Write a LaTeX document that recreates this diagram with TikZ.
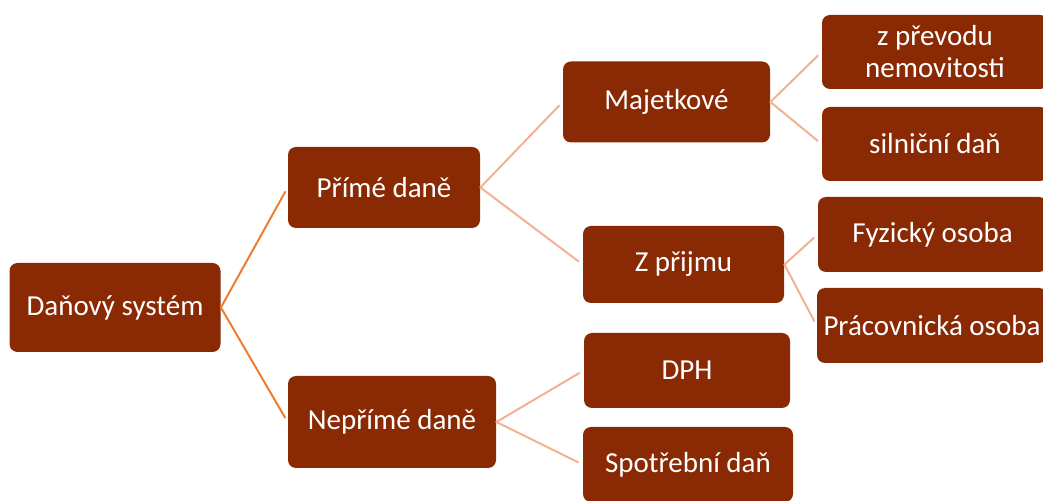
\documentclass[tikz,border=0pt]{standalone}
\usepackage{fontspec}
\setmainfont{Carlito}
\definecolor{boxred}{RGB}{137,42,4}
\definecolor{linkorange}{RGB}{237,125,49}
\definecolor{linksalmon}{RGB}{244,177,146}
\tikzset{
	taxbox/.style={rectangle, rounded corners=4pt, fill=boxred, text=white, inner sep=0pt, align=center, font=\fontsize{14.5}{16}\selectfont},
	mainlink/.style={draw=linkorange, line width=1pt, shorten >=2.5pt},
	sublink/.style={draw=linksalmon, line width=1pt, shorten >=2.5pt}
}
\begin{document}
\begin{tikzpicture}[x=0.5pt, y=-0.5pt, line join=round, line cap=round]
			\useasboundingbox (0,0) rectangle (1043,501);
			\clip (0,0) rectangle (1043,501);
			% Uzly
			\node[taxbox, minimum width=105.5pt, minimum height=44.5pt] (root) at (115,307.5) {Daňový systém};
			\node[taxbox, minimum width=96pt, minimum height=40.5pt] (prime) at (384,187.5) {Přímé daně};
			\node[taxbox, minimum width=104pt, minimum height=46pt] (neprime) at (392,422) {Nepřímé daně};
			\node[taxbox, minimum width=103.5pt, minimum height=40.5pt] (majet) at (666.5,102) {Majetkové};
			\node[taxbox, minimum width=100.5pt, minimum height=38.5pt] (prijem) at (683.5,264.5) {Z přijmu};
			\node[taxbox, minimum width=103pt, minimum height=37.5pt] (dph) at (687,370.5) {DPH};
			\node[taxbox, minimum width=105pt, minimum height=37.5pt] (spotr) at (688,464.5) {Spotřební daň};
			\node[taxbox, minimum width=113pt, minimum height=37pt] (prevod) at (935,52) {z převodu\\nemovitosti};
			\node[taxbox, minimum width=113pt, minimum height=37pt] (silnic) at (935,144) {silniční daň};
			\node[taxbox, minimum width=114.5pt, minimum height=37.5pt] (fyz) at (932.5,234.5) {Fyzický osoba};
			\node[taxbox, minimum width=115pt, minimum height=37.5pt] (prac) at (932,325.5) {Prácovnická osoba};
			% Spojnice
			\draw[mainlink] (root.east) -- (prime.west);
			\draw[mainlink] (root.east) -- (neprime.west);
			\draw[sublink] (prime.east) -- (majet.west);
			\draw[sublink] (prime.east) -- (prijem.west);
			\draw[sublink] (neprime.east) -- (dph.west);
			\draw[sublink] (neprime.east) -- (spotr.west);
			\draw[sublink] (majet.east) -- (prevod.west);
			\draw[sublink] (majet.east) -- (silnic.west);
			\draw[sublink] (prijem.east) -- (fyz.west);
			\draw[sublink] (prijem.east) -- (prac.west);
		\end{tikzpicture}
\end{document}
